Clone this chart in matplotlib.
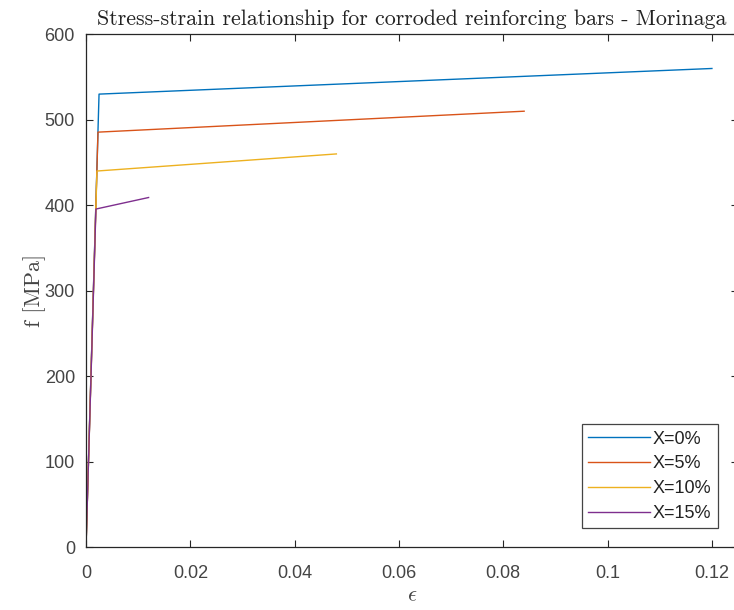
import matplotlib
matplotlib.use("Agg")
import matplotlib.pyplot as plt

# Data (strain, stress) per corrosion level
labels = ["X=0%", "X=5%", "X=10%", "X=15%"]
strain = [
    [0.0, 0.00250, 0.120],
    [0.0, 0.00230, 0.084],
    [0.0, 0.00210, 0.048],
    [0.0, 0.00190, 0.012],
]
stress = [
    [0.0, 530.0, 560.0],
    [0.0, 485.5, 510.0],
    [0.0, 440.0, 460.0],
    [0.0, 395.5, 409.0],
]
colors = ["#0072BD", "#D95319", "#EDB120", "#7E2F8E"]
xticks = [0, 0.02, 0.04, 0.06, 0.08, 0.1, 0.12]
xticklabels = ["0", "0.02", "0.04", "0.06", "0.08", "0.1", "0.12"]
yticks = [0, 100, 200, 300, 400, 500, 600]

plt.rcParams["mathtext.fontset"] = "cm"
plt.rcParams["font.family"] = ["Liberation Sans", "DejaVu Sans"]
plt.rcParams["axes.unicode_minus"] = False

fig = plt.figure(figsize=(7.34, 6.10), dpi=100)
W, H = 734.0, 610.0
left, right, bottom, top = 86, 738, 547, 34.3
ax = fig.add_axes([left / W, 1 - bottom / H, (right - left) / W, (bottom - top) / H])

for s, f, c, lab in zip(strain, stress, colors, labels):
    ax.plot(s, f, color=c, lw=1.0, label=lab)

ax.set_xlim(0, 0.125)
ax.set_ylim(0, 600)
ax.set_xticks(xticks)
ax.set_xticklabels(xticklabels)
ax.set_yticks(yticks)

axcol = "#262626"
for sp in ax.spines.values():
    sp.set_color(axcol)
    sp.set_linewidth(0.9)
ax.tick_params(direction="in", length=5, width=0.8, colors=axcol,
               labelsize=13, top=True, right=True)
ax.tick_params(axis="x", pad=13)
ax.tick_params(axis="y", pad=8)
for t in ax.get_xticklabels() + ax.get_yticklabels():
    t.set_color("#444444")

ax.set_title("Stress-strain relationship for corroded reinforcing bars - Morinaga",
             fontfamily="cmr10", fontsize=15.8, pad=7, color="#222222")
ax.set_xlabel(r"$\epsilon$", fontsize=16, color="#444444", labelpad=2)
ax.set_ylabel("f [MPa]", fontfamily="cmr10", fontsize=16, color="#444444", labelpad=-1)

leg = ax.legend(loc="lower right", bbox_to_anchor=((717.7 - left) / (right - left), (547 - 528.3) / (bottom - top)),
                fontsize=13, frameon=True, fancybox=False, framealpha=1,
                edgecolor="#444444", handlelength=3.4, handletextpad=0.17,
                labelspacing=0.43, borderpad=0.35, borderaxespad=0)
leg.get_frame().set_linewidth(0.9)
for t in leg.get_texts():
    t.set_color("#222222")

fig.savefig("out.png", dpi=100)
